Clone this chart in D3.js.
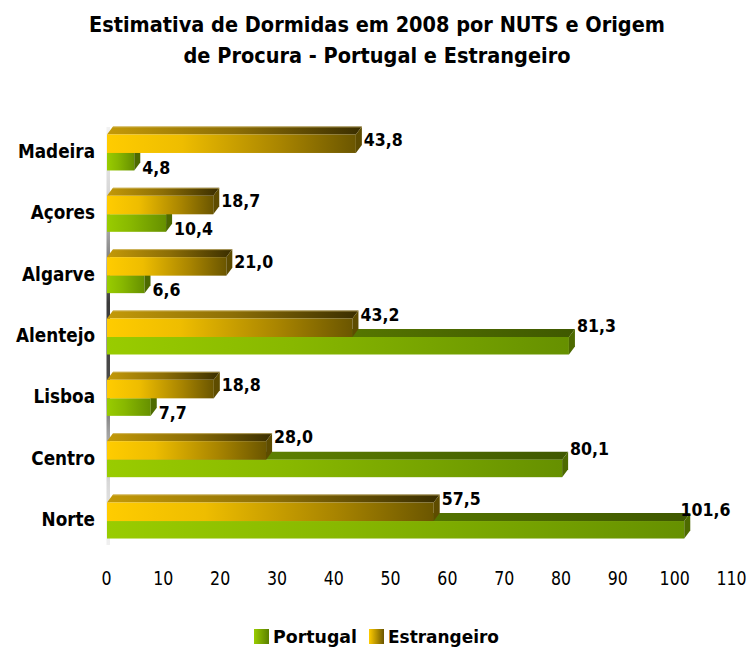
<!DOCTYPE html>
<html>
<head>
<meta charset="utf-8">
<script src="https://cdn.jsdelivr.net/npm/d3@7"></script>
<style>
  html, body { margin: 0; padding: 0; background: #ffffff; }
  svg { display: block; }
  text { font-family: "DejaVu Sans", Verdana, sans-serif; fill: #000; }
</style>
</head>
<body>
<svg id="chart" width="752" height="648"></svg>
<script>
// ---- data ----
const titleLines = ["Estimativa de Dormidas em 2008 por NUTS e Origem", "de Procura - Portugal e Estrangeiro"];
const categories = ["Madeira", "Açores", "Algarve", "Alentejo", "Lisboa", "Centro", "Norte"];
const portugal = [4.8, 10.4, 6.6, 81.3, 7.7, 80.1, 101.6];
const estrangeiro = [43.8, 18.7, 21.0, 43.2, 18.8, 28.0, 57.5];
const seriesNames = ["Portugal", "Estrangeiro"];
const xTicks = [0, 10, 20, 30, 40, 50, 60, 70, 80, 90, 100, 110];

// ---- setup ----
const svg = d3.select("#chart");
const W = 752, H = 648;
const x = d3.scaleLinear().domain([0, 110]).range([107, 732]);
const y = d3.scaleBand().domain(categories).range([122.3, 551.7]).padding(0);
const dx = 6, dy = 8;          // 3D depth offsets
const hE = 18.5, hP = 17.5;    // front face heights
const fmt = v => d3.format(".1f")(v).replace(".", ",");

function squish(sel, k) {
  sel.each(function () {
    const w = this.getComputedTextLength();
    d3.select(this).attr("textLength", w * k).attr("lengthAdjust", "spacingAndGlyphs");
  });
}
function kFor(node, target) { return target / node.getComputedTextLength(); }

// ---- gradients ----
const defs = svg.append("defs");
function hGrad(id, stops) {
  const g = defs.append("linearGradient").attr("id", id).attr("x1", 0).attr("y1", 0).attr("x2", 1).attr("y2", 0);
  stops.forEach(s => g.append("stop").attr("offset", s[0]).attr("stop-color", s[1]));
}
hGrad("eFront", [[0, "#ffcc00"], [0.3, "#eebd00"], [0.7, "#a88400"], [1, "#6b5600"]]);
hGrad("eTop", [[0, "#c49a08"], [0.5, "#8c6e06"], [1, "#3a2e00"]]);
hGrad("pFront", [[0, "#99cc00"], [0.4, "#88b800"], [1, "#669000"]]);
hGrad("pTop", [[0, "#6e9600"], [1, "#3f5800"]]);
hGrad("pLeg", [[0, "#99cc00"], [1, "#5a8000"]]);
hGrad("eLeg", [[0, "#ffcc00"], [1, "#6b5600"]]);
const wall = defs.append("linearGradient").attr("id", "wall").attr("x1", 0).attr("y1", 0).attr("x2", 0).attr("y2", 1);
[[0, "#f2f2f2"], [0.15, "#d8d8d8"], [0.3, "#8a8a8a"], [0.42, "#3a3a3a"], [0.6, "#4a4a4a"], [0.72, "#9a9a9a"], [0.85, "#d8d8d8"], [1, "#f0f0f0"]]
  .forEach(s => wall.append("stop").attr("offset", s[0]).attr("stop-color", s[1]));

// ---- title ----
const tG = svg.append("g");
const t1 = tG.append("text").attr("x", 377).attr("y", 32).attr("text-anchor", "middle")
  .attr("font-size", 20.5).attr("font-weight", "bold").text(titleLines[0]);
const t2 = tG.append("text").attr("x", 377).attr("y", 63).attr("text-anchor", "middle")
  .attr("font-size", 20.5).attr("font-weight", "bold").text(titleLines[1]);
const kt = kFor(t1.node(), 576);
squish(tG.selectAll("text"), kt);

// ---- wall line ----
svg.append("rect").attr("x", 106.5).attr("y", 127).attr("width", 3.5).attr("height", 418).attr("fill", "url(#wall)");

// ---- bars ----
const data = categories.map((c, i) => ({ cat: c, p: portugal[i], e: estrangeiro[i] }));
const barsG = svg.append("g");
function bar3d(g, x0, x1, top, h, front, topFill, sideFill) {
  g.append("polygon")
    .attr("points", [[x0, top], [x1, top], [x1 + dx, top - dy], [x0 + dx, top - dy]].map(p => p.join(",")).join(" "))
    .attr("fill", topFill);
  g.append("rect").attr("x", x0).attr("y", top).attr("width", Math.max(0, x1 - x0)).attr("height", h).attr("fill", front);
  g.append("polygon")
    .attr("points", [[x1, top], [x1, top + h], [x1 + dx, top + h - dy], [x1 + dx, top - dy]].map(p => p.join(",")).join(" "))
    .attr("fill", sideFill);
}
data.forEach(d => {
  const c = y(d.cat) + y.bandwidth() / 2;
  const g = barsG.append("g");
  bar3d(g, x(0), x(d.p), c, hP, "url(#pFront)", "url(#pTop)", "#4d6a00");
  bar3d(g, x(0), x(d.e), c - hE, hE, "url(#eFront)", "url(#eTop)", "#5e4c00");
  // top edge highlight on Estrangeiro
  g.append("line").attr("x1", x(0) + dx).attr("x2", x(d.e) + dx).attr("y1", c - hE - dy + 0.5).attr("y2", c - hE - dy + 0.5)
    .attr("stroke", "#d8c070").attr("stroke-width", 1).attr("opacity", 0.6);
});

// ---- value labels ----
const lblG = svg.append("g");
const kv = 0.93;
data.forEach(d => {
  const c = y(d.cat) + y.bandwidth() / 2;
  const pLonger = d.p > d.e;
  const eCenter = pLonger ? (c - hE - 4) : (c - hE + 5);
  const pCenter = pLonger ? (c - 11) : (c + hP - 3);
  [[d.e, eCenter], [d.p, pCenter]].forEach(([v, cy]) => {
    const t = lblG.append("text").attr("font-size", 17).attr("font-weight", "bold")
      .attr("y", cy + 6.3).text(fmt(v));
    squish(t, kv);
    const w = t.node().getComputedTextLength() * kv;
    let sx = x(v) + dx + 2;
    if (sx + w > 727) sx = 727 - w;
    t.attr("x", sx);
  });
});

// ---- category labels ----
const catG = svg.append("g");
catG.selectAll("text").data(categories).join("text")
  .attr("x", 95).attr("y", d => y(d) + y.bandwidth() / 2 + 5)
  .attr("text-anchor", "end").attr("font-size", 20).attr("font-weight", "bold").text(d => d);
const kc = kFor(catG.select("text").node(), 77);
squish(catG.selectAll("text"), kc);

// ---- x axis ----
const axG = svg.append("g").attr("transform", "translate(0,570)")
  .call(d3.axisBottom(x).tickValues(xTicks).tickFormat(d3.format("d")).tickSize(0).tickPadding(0));
axG.select(".domain").remove();
axG.selectAll("text").attr("font-size", 20).attr("font-family", "DejaVu Sans").attr("fill", "#000")
  .attr("dy", "0.75em").attr("y", 0).attr("dx", -1);
squish(axG.selectAll("text"), 0.79);

// ---- legend ----
const legG = svg.append("g");
legG.append("rect").attr("x", 254).attr("y", 629).attr("width", 15).attr("height", 15).attr("fill", "url(#pLeg)");
const l1 = legG.append("text").attr("x", 273).attr("y", 643).attr("font-size", 18).attr("font-weight", "bold").text(seriesNames[0]);
legG.append("rect").attr("x", 369).attr("y", 629).attr("width", 15).attr("height", 15).attr("fill", "url(#eLeg)");
const l2 = legG.append("text").attr("x", 388).attr("y", 643).attr("font-size", 18).attr("font-weight", "bold").text(seriesNames[1]);
squish(l1, kFor(l1.node(), 84));
squish(l2, kFor(l2.node(), 111));
</script>
</body>
</html>
